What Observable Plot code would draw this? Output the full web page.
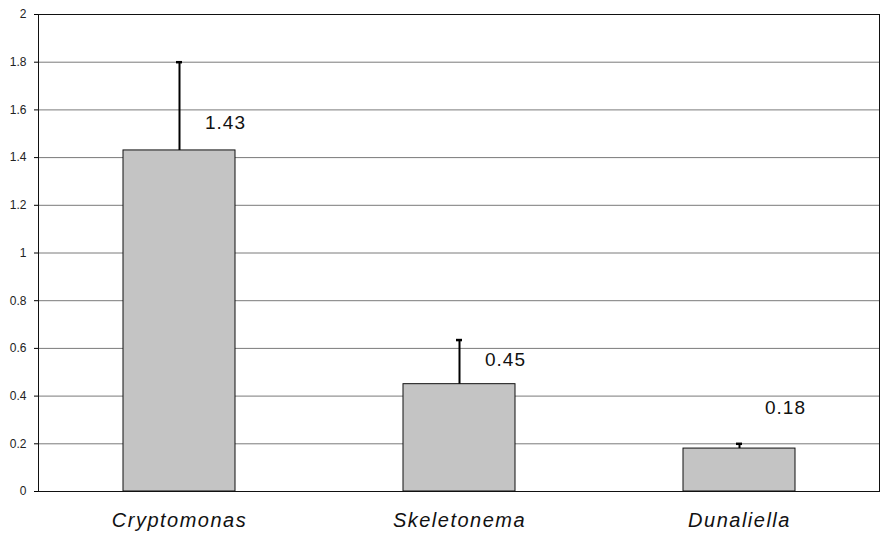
<!DOCTYPE html>
<html>
<head>
<meta charset="utf-8">
<script src="https://cdn.jsdelivr.net/npm/d3@7"></script>
<script src="https://cdn.jsdelivr.net/npm/@observablehq/plot@0.6"></script>
<style>
  html, body { margin: 0; padding: 0; background: #fff; }
  #chart svg { display: block; }
  #chart g[aria-label="x-axis tick label"] text { letter-spacing: 1.5px; }
  #chart g[aria-label="text"] text { letter-spacing: 1px; }
</style>
</head>
<body>
<div id="chart"></div>
<script>
const species = ["Cryptomonas", "Skeletonema", "Dunaliella"];
const means = [1.43, 0.45, 0.18];
const errors = [0.37, 0.185, 0.02];
const labels = ["1.43", "0.45", "0.18"];
const yTicks = [0, 0.2, 0.4, 0.6, 0.8, 1, 1.2, 1.4, 1.6, 1.8, 2];

const data = species.map((s, i) => ({ name: s, value: means[i], err: errors[i], label: labels[i] }));
const labelLift = { Cryptomonas: 0.117, Skeletonema: 0.10, Dunaliella: 0.172 };

const chart = Plot.plot({
  width: 882,
  height: 535,
  marginLeft: 38,
  marginRight: 3,
  marginTop: 14,
  marginBottom: 44,
  style: { fontFamily: "'Liberation Sans', Arial, sans-serif", background: "#fff" },
  x: { domain: species, paddingInner: 0.6, paddingOuter: 0.3, label: null },
  y: { domain: [0, 2], label: null },
  marks: [
    Plot.gridY(yTicks, { stroke: "#7a7a7a", strokeOpacity: 1, strokeWidth: 1 }),
    Plot.barY(data, { x: "name", y: "value", fill: "#c4c4c4", stroke: "#111", strokeWidth: 1 }),
    Plot.ruleX(data, { x: "name", y1: "value", y2: d => d.value + d.err, stroke: "#000", strokeWidth: 2 }),
    Plot.tickY(data, { x: "name", y: d => d.value + d.err, stroke: "#000", strokeWidth: 2.5, insetLeft: 53, insetRight: 53 }),
    Plot.text(data, { x: "name", y: d => d.value + labelLift[d.name], text: "label", dx: 46, fontSize: 19, fill: "#111" }),
    Plot.frame({ stroke: "#111", strokeWidth: 1 }),
    Plot.axisY(yTicks, { tickSize: 4, tickPadding: 8, fontSize: 12, fill: "#222", tickFormat: d => String(d) }),
    Plot.axisX({ tickSize: 0, tickPadding: 21, fontSize: 20, fontStyle: "italic", fill: "#111" })
  ]
});
document.getElementById("chart").appendChild(chart);
</script>
</body>
</html>
